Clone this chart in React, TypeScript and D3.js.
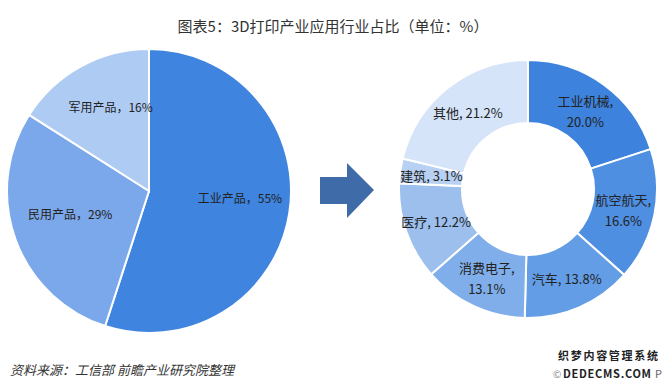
import React from "react";
import * as d3 from "d3";

// left pie: product categories
const productNames = ["工业产品", "民用产品", "军用产品"];
const productValues = [55, 29, 16];
const productColors = ["#3f84de", "#7ba8ea", "#aecbf3"];

// right donut: application industries
const industryNames = ["工业机械", "航空航天", "汽车", "消费电子", "医疗", "建筑", "其他"];
const industryValues = [20.0, 16.6, 13.8, 13.1, 12.2, 3.1, 21.2];
const industryColors = ["#3d83dd", "#4f8fe2", "#639de6", "#80aeea", "#9cbfee", "#b8d1f3", "#d5e4f8"];
// labels that wrap onto two lines
const twoLine = ["工业机械", "航空航天", "消费电子"];

const W = 667;
const H = 386;
const FONT = "'Noto Sans CJK SC', 'Noto Sans', sans-serif";

export default function App() {
  const pie = d3.pie<number>().sort(null).value(d => d);

  // left pie
  const lc = { x: 149, y: 191 };
  const lr = 142;
  const leftArcs = pie(productValues);
  const leftArc = d3.arc<d3.PieArcDatum<number>>().innerRadius(0).outerRadius(lr);
  const leftLabel = d3.arc<d3.PieArcDatum<number>>().innerRadius(88).outerRadius(88);

  // right donut
  const rc = { x: 528, y: 189 };
  const rOuter = 129;
  const rInner = 66;
  const rightArcs = pie(industryValues);
  const rightArc = d3.arc<d3.PieArcDatum<number>>().innerRadius(rInner).outerRadius(rOuter);

  // arrow between charts
  const arrow = d3.line()([
    [320, 177], [347, 177], [347, 163], [374, 190],
    [347, 218], [347, 204], [320, 204],
  ]) + "Z";

  return (
    <svg width={W} height={H} style={{ position: "absolute", left: 0, top: 0, background: "#fff" }}>
      <text x={333} y={25} textAnchor="middle" dominantBaseline="central"
        fontFamily={FONT} fontSize={15} fill="#333">
        图表5：3D打印产业应用行业占比（单位：%）
      </text>

      <g transform={`translate(${lc.x},${lc.y})`}>
        {leftArcs.map((d, i) => (
          <path key={i} d={leftArc(d) as string} fill={productColors[i]} stroke="#fff" strokeWidth={2} />
        ))}
        {leftArcs.map((d, i) => {
          const [x, y] = leftLabel.centroid(d);
          return (
            <text key={i} x={x + 4} y={y - 7} textAnchor="middle" dominantBaseline="central"
              fontFamily={FONT} fontSize={12} fill="#222">
              {productNames[i]}，{productValues[i]}%
            </text>
          );
        })}
      </g>

      <path d={arrow} fill="#3f6ca8" />

      <g transform={`translate(${rc.x},${rc.y})`}>
        {rightArcs.map((d, i) => (
          <path key={i} d={rightArc(d) as string} fill={industryColors[i]} stroke="#fff" strokeWidth={2} />
        ))}
        {rightArcs.map((d, i) => {
          const [x, y] = rightArc.centroid(d);
          const name = industryNames[i];
          const val = industryValues[i].toFixed(1) + "%";
          if (twoLine.includes(name)) {
            return (
              <text key={i} x={x} y={y} textAnchor="middle" dominantBaseline="central"
                fontFamily={FONT} fontSize={13} fill="#222">
                <tspan x={x} dy={-10.5}>{name},</tspan>
                <tspan x={x} dy={21}>{val}</tspan>
              </text>
            );
          }
          return (
            <text key={i} x={x} y={y} textAnchor="middle" dominantBaseline="central"
              fontFamily={FONT} fontSize={13} fill="#222">
              {name}, {val}
            </text>
          );
        })}
      </g>

      <text x={10} y={369} dominantBaseline="central" fontFamily={FONT} fontSize={13}
        fontStyle="italic" fill="#333">
        资料来源：工信部 前瞻产业研究院整理
      </text>

      <text x={558} y={355} dominantBaseline="central" fontFamily={FONT} fontSize={11}
        fontWeight="bold" fill="#222" textLength={100}>
        织梦内容管理系统
      </text>
      <text x={553} y={373} dominantBaseline="central" fontFamily={FONT} fontSize={10}
        fill="#888">
        ©
      </text>
      <text x={563} y={373} dominantBaseline="central" fontFamily={FONT} fontSize={11}
        fontWeight="bold" fill="#222" textLength={88}>
        DEDECMS.COM
      </text>
      <text x={655} y={373} dominantBaseline="central" fontFamily={FONT} fontSize={11}
        fill="#666">
        P
      </text>
    </svg>
  );
}
